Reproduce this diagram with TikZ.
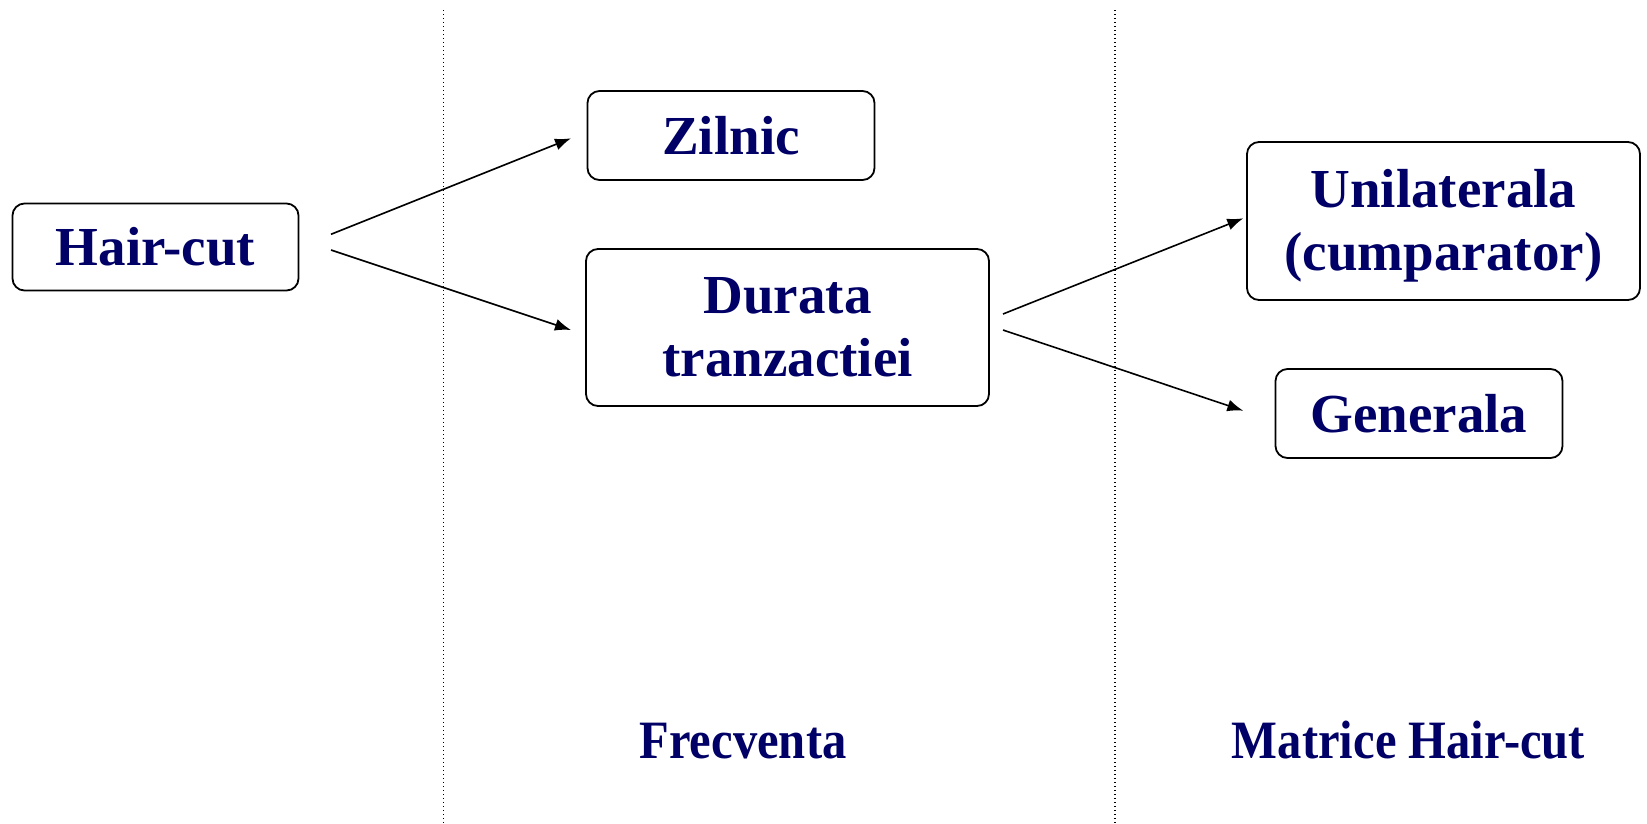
\documentclass[tikz,border=0pt]{standalone}
\usepackage{fontspec}
\setmainfont{Liberation Serif}
\newfontfamily\colfont{Liberation Serif}[FakeStretch=0.9]
\usetikzlibrary{arrows.meta}
\definecolor{navy}{RGB}{0,0,102}

\begin{document}
\begin{tikzpicture}[x=1pt,y=-1pt,
    main node/.style={draw,rounded corners=12pt,line width=1.8pt,text=navy,
      font=\fontsize{55}{63}\selectfont\bfseries,align=center,inner sep=0pt},
    col label/.style={text=navy,font=\colfont\fontsize{54}{60}\selectfont\bfseries,anchor=base},
    link/.style={line width=1.6pt,-{Latex[length=16pt,width=12pt]}}]
    \useasboundingbox (0,0) rectangle (1647,823);

    % separators between the columns
    \draw[line width=1.2pt,dash pattern=on 1.3pt off 2.7pt] (443.5,10) -- (443.5,823);
    \draw[line width=1.2pt,dash pattern=on 1.3pt off 2.7pt] (1115,10) -- (1115,823);

    \node[main node,minimum width=286pt,minimum height=87pt] (hair) at (155.5,247) {Hair-cut};
    \node[main node,minimum width=287pt,minimum height=89pt] (zilnic) at (731,135.5) {Zilnic};
    \node[main node,minimum width=403pt,minimum height=157pt] (durata) at (787.5,327.5) {Durata\\tranzactiei};
    \node[main node,minimum width=393pt,minimum height=158pt] (unil) at (1443.5,221) {\rule{0pt}{48pt}Unilaterala\\(cumparator)};
    \node[main node,minimum width=287pt,minimum height=89pt] (gen) at (1419,413.5) {Generala};

    \node[col label] (frecv) at (743,758) {Frecventa};
    \node[col label] (matrice) at (1408.5,758) {Matrice Hair-cut};

    \coordinate (s1) at (331,234.3);
    \coordinate (e1) at (571,138.3);
    \coordinate (s2) at (331,250);
    \coordinate (e2) at (571,330);
    \coordinate (s3) at (1003,314);
    \coordinate (e3) at (1243.3,218.3);
    \coordinate (s4) at (1003,330);
    \coordinate (e4) at (1243.3,410.7);

    \path[link]
    (s1) edge (e1)
    (s2) edge (e2)
    (s3) edge (e3)
    (s4) edge (e4);
  \end{tikzpicture}
\end{document}
